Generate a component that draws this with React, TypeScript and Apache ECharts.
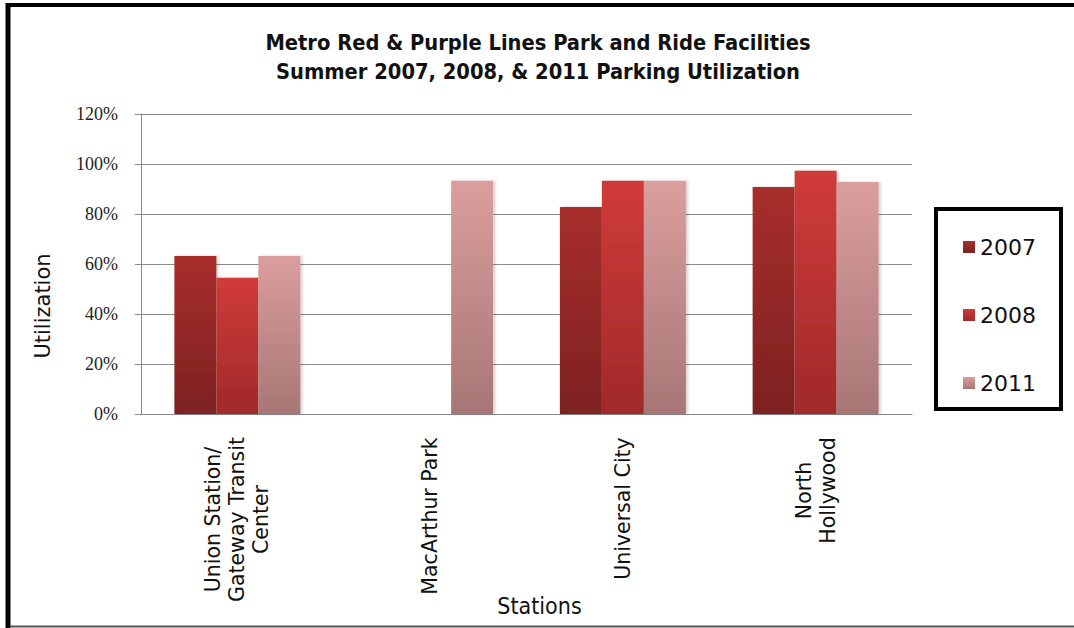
import React, { useEffect, useRef } from "react";
import * as echarts from "echarts";

const titleLines = [
  "Metro Red & Purple Lines Park and Ride Facilities",
  "Summer 2007, 2008, & 2011 Parking Utilization",
];
const stations = [
  "Union Station/\nGateway Transit\nCenter",
  "MacArthur Park",
  "Universal City",
  "North\nHollywood",
];
const years = ["2007", "2008", "2011"];
const util2007: (number | null)[] = [0.632, null, 0.828, 0.908];
const util2008: (number | null)[] = [0.545, null, 0.933, 0.973];
const util2011: (number | null)[] = [0.632, 0.933, 0.933, 0.928];
const yTicks = [0, 0.2, 0.4, 0.6, 0.8, 1.0, 1.2];

const topColors = ["#a82e2c", "#d03b3a", "#db9e9e"];
const bottomColors = ["#7d2121", "#a12929", "#a87676"];

const X_FONT = '"DejaVu Sans", "Noto Sans", sans-serif';
const X_SIZE = 20.5;

export default function App() {
  const ref = useRef<HTMLDivElement>(null);
  useEffect(() => {
    document.body.style.margin = "0";
    const chart = echarts.init(ref.current!, null, { renderer: "svg" });

    const canvas = document.createElement("canvas");
    const ctx = canvas.getContext("2d")!;
    ctx.font = `${X_SIZE}px "DejaVu Sans"`;
    const rich: Record<string, any> = {};
    stations.forEach((s, i) => {
      const w = Math.max(...s.split("\n").map((l) => ctx.measureText(l).width));
      rich["w" + i] = {
        width: Math.ceil(w) + 2,
        align: "center",
        fontSize: X_SIZE,
        fontFamily: X_FONT,
        lineHeight: 24,
        color: "#111",
      };
    });

    const seriesData = [util2007, util2008, util2011];
    const grad = (i: number) =>
      new echarts.graphic.LinearGradient(0, 0, 0, 1, [
        { offset: 0, color: topColors[i] },
        { offset: 1, color: bottomColors[i] },
      ]);

    chart.setOption({
      animation: false,
      backgroundColor: "#fff",
      title: {
        text: titleLines.join("\n"),
        left: 533,
        textAlign: "center",
        top: 23,
        textStyle: {
          fontFamily: '"DejaVu Sans Condensed", "DejaVu Sans", sans-serif',
          fontWeight: "bold",
          fontSize: 21.7,
          lineHeight: 29,
          color: "#111",
        },
      },
      legend: {
        orient: "vertical",
        left: 958,
        top: 231,
        itemGap: 46,
        itemWidth: 12,
        itemHeight: 12,
        icon: "rect",
        data: years,
        textStyle: {
          fontFamily: '"DejaVu Sans", sans-serif',
          fontSize: 22,
          lineHeight: 22,
          color: "#111",
        },
      },
      grid: { left: 141, right: 162, top: 114, bottom: 214 },
      xAxis: {
        type: "category",
        data: stations,
        name: "Stations",
        nameLocation: "middle",
        nameGap: 180,
        nameMoveOverlap: false,
        nameTextStyle: {
          fontFamily: '"DejaVu Sans Condensed", "DejaVu Sans", sans-serif',
          fontSize: 23,
          color: "#111",
          padding: [0, 0, 0, 26],
        },
        axisLine: { lineStyle: { color: "#8a8a8a", width: 1 } },
        axisTick: { length: 7, lineStyle: { color: "#8a8a8a" } },
        axisLabel: {
          rotate: 90,
          margin: 22,
          interval: 0,
          formatter: (v: string, idx: number) =>
            v
              .split("\n")
              .map((l) => `{w${idx}|${l}}`)
              .join("\n"),
          rich,
        },
      },
      yAxis: {
        type: "value",
        min: yTicks[0],
        max: yTicks[yTicks.length - 1],
        interval: 0.2,
        name: "Utilization",
        nameLocation: "middle",
        nameRotate: 90,
        nameGap: 88,
        nameMoveOverlap: false,
        nameTextStyle: {
          fontFamily: '"DejaVu Sans", sans-serif',
          fontSize: 21,
          color: "#111",
          padding: [0, 84, 0, 0],
        },
        axisLine: { show: true, lineStyle: { color: "#8a8a8a", width: 1 } },
        axisTick: { show: true, length: 6, lineStyle: { color: "#8a8a8a" } },
        splitLine: { lineStyle: { color: "#8a8a8a", width: 1 } },
        axisLabel: {
          margin: 23,
          fontFamily: '"Liberation Serif", "DejaVu Serif", serif',
          fontSize: 18,
          color: "#222",
          formatter: (v: number) => `${Math.round(v * 100)}%`,
        },
      },
      series: years.map((y, i) => ({
        name: y,
        type: "bar",
        data: seriesData[i],
        barWidth: 42,
        barGap: "0%",
        itemStyle: {
          color: grad(i),
          shadowColor: "rgba(0,0,0,0.18)",
          shadowBlur: 3,
          shadowOffsetX: 2,
        },
      })),
      graphic: [
        {
          type: "rect",
          shape: { x: 936, y: 209, width: 125, height: 200 },
          style: { fill: "none", stroke: "#000", lineWidth: 4 },
          z: 10,
        },
        {
          type: "line",
          shape: { x1: 6, y1: 5, x2: 1074, y2: 5 },
          style: { stroke: "#000", lineWidth: 4 },
        },
        {
          type: "line",
          shape: { x1: 8, y1: 3, x2: 8, y2: 628 },
          style: { stroke: "#000", lineWidth: 5 },
        },
        {
          type: "line",
          shape: { x1: 10, y1: 626.5, x2: 1074, y2: 626.5 },
          style: { stroke: "#555", lineWidth: 2 },
        },
      ],
    });
    return () => chart.dispose();
  }, []);
  return (
    <div
      ref={ref}
      style={{ position: "fixed", left: 0, top: 0, width: 1074, height: 628 }}
    />
  );
}
